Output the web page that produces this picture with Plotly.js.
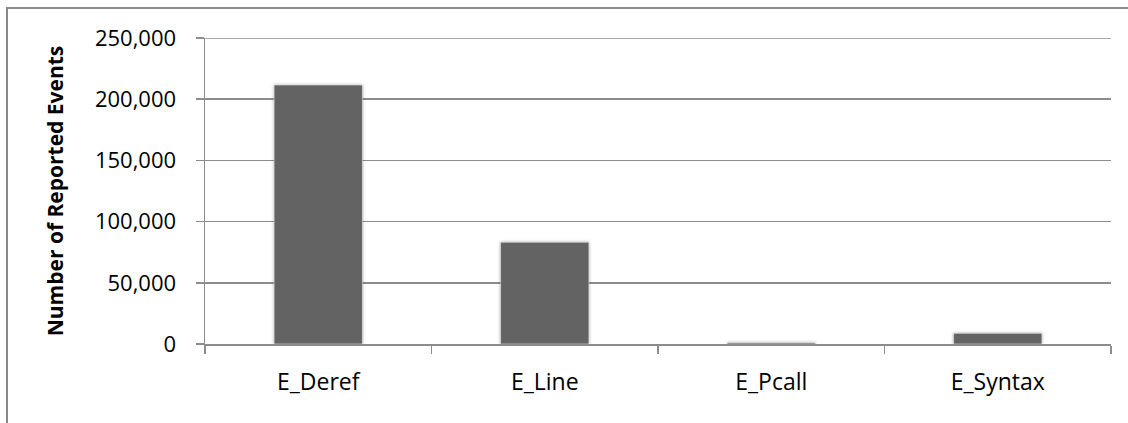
<!DOCTYPE html>
<html>
<head>
<meta charset="utf-8">
<script src="https://cdn.plot.ly/plotly-3.0.1.min.js"></script>
<style>
  html, body { margin: 0; padding: 0; background: #fff; }
  #frame { position: relative; width: 1128px; height: 423px; overflow: hidden; }
  #frame::before {
    content: ""; position: absolute; left: 6px; top: 7px; right: -10px; bottom: -10px;
    border-left: 2px solid #888; border-top: 2px solid #888; z-index: 2; pointer-events: none;
  }
  #chart { width: 1128px; height: 423px; }
  .bars path { filter: drop-shadow(0 0 1.5px rgba(0,0,0,0.35)); }
</style>
</head>
<body>
<div id="frame"><div id="chart"></div></div>
<script>
// Event categories and their reported counts
const categories = ["E_Deref", "E_Line", "E_Pcall", "E_Syntax"];
const reportedEvents = [211600, 83100, 1000, 8700];
const yTickValues = [0, 50000, 100000, 150000, 200000, 250000];
const yTickLabels = ["0", "50,000", "100,000", "150,000", "200,000", "250,000"];
const yMax = 250000;

const fontFamily = "'Open Sans', sans-serif";
const gridColor = "#8c8c8c";

const trace = {
  type: "bar",
  x: categories,
  y: reportedEvents,
  marker: { color: "#636363", line: { color: "#ffffff", width: 0.5 } },
  hoverinfo: "x+y"
};

const layout = {
  width: 1128,
  height: 423,
  margin: { l: 205, r: 17, t: 38, b: 79, pad: 0 },
  paper_bgcolor: "#ffffff",
  plot_bgcolor: "#ffffff",
  bargap: 0.61,
  showlegend: false,
  font: { family: fontFamily, size: 22, color: "#000" },
  xaxis: {
    type: "category",
    showline: true,
    linecolor: gridColor,
    linewidth: 1.5,
    ticks: "outside",
    tickson: "boundaries",
    ticklen: 8,
    tickcolor: gridColor,
    tickwidth: 1.5,
    showgrid: false,
    tickfont: { family: fontFamily, size: 23, color: "#000" },
    ticklabelstandoff: 17
  },
  yaxis: {
    range: [0, yMax],
    tickvals: yTickValues,
    ticktext: yTickLabels,
    showline: true,
    linecolor: gridColor,
    linewidth: 1.5,
    ticks: "outside",
    ticklen: 8,
    tickcolor: gridColor,
    tickwidth: 1.5,
    showgrid: true,
    gridcolor: gridColor,
    gridwidth: 1.5,
    zeroline: false,
    tickfont: { family: fontFamily, size: 22, color: "#000" },
    ticklabelstandoff: 15,
    title: {
      text: "<b>Number of Reported Events</b>",
      font: { family: fontFamily, size: 21, color: "#000" },
      standoff: 25
    }
  },
  // top gridline at the upper edge of the value axis
  shapes: [{
    type: "line", xref: "paper", yref: "y",
    x0: 0, x1: 1, y0: yMax, y1: yMax,
    line: { color: gridColor, width: 1.5 }
  }]
};

Plotly.newPlot("chart", [trace], layout, { displayModeBar: false, staticPlot: true });
</script>
</body>
</html>
